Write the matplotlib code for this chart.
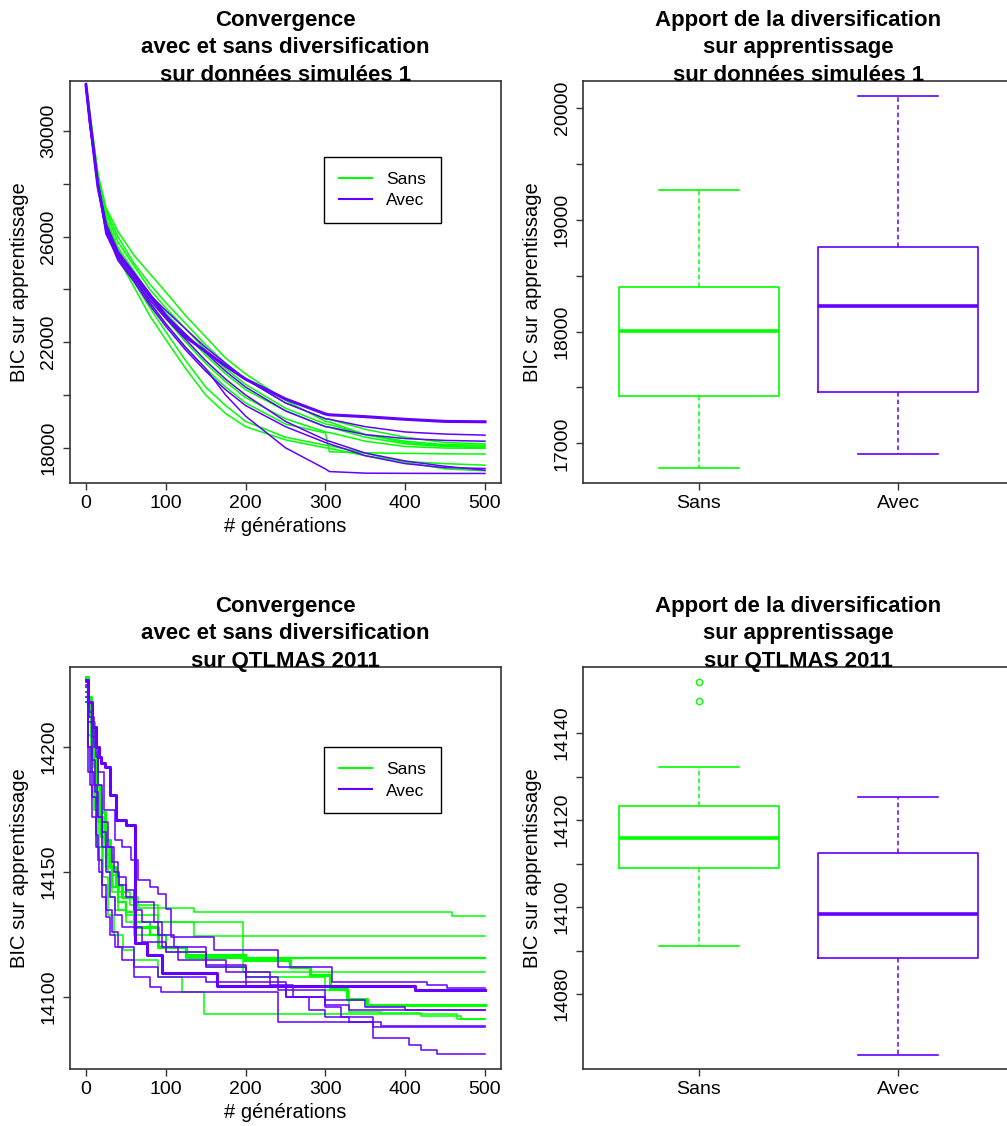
import numpy as np
import matplotlib
matplotlib.use('Agg')
import matplotlib.pyplot as plt

plt.rcParams['font.family'] = ['Liberation Sans', 'DejaVu Sans']

VERT = '#00FF00'
VIOLET = '#6400FF'

# ---- courbes de convergence, données simulées 1 (grille commune de générations)
top_gens = [0, 5, 15, 25, 40, 60, 80, 100, 125, 150, 175, 200, 250, 300, 305, 350, 400, 450, 500]
top_sans = [
    [31700, 30500, 28200, 26900, 25800, 24900, 24000, 23300, 22500, 21700, 21000, 20400, 19500, 18900, 18880, 18500, 18250, 18120, 18100],
    [31650, 30300, 28000, 26700, 25600, 24700, 23800, 23100, 22300, 21500, 20800, 20200, 19400, 18800, 18780, 18400, 18150, 18050, 18000],
    [31800, 30700, 28400, 27100, 26200, 25300, 24600, 23900, 23000, 22200, 21400, 20800, 19800, 19000, 18980, 18500, 18200, 18080, 18060],
    [31600, 30400, 27900, 26600, 25500, 24500, 23600, 22900, 22000, 21200, 20500, 19900, 19100, 18600, 18580, 18250, 18050, 17990, 17980],
    [31700, 30400, 28000, 26700, 25500, 24500, 23500, 22700, 21800, 21000, 20300, 19700, 18900, 18560, 17850, 17810, 17790, 17770, 17765],
    [31700, 30300, 27800, 26400, 25200, 24100, 23000, 22100, 21000, 20000, 19300, 18800, 18300, 18000, 17980, 17700, 17480, 17400, 17343],
    [31750, 30500, 28000, 26600, 25300, 24300, 23300, 22400, 21300, 20300, 19600, 19000, 18400, 18100, 18080, 17800, 17450, 17200, 17130],
    [31700, 30600, 28300, 27000, 26000, 25000, 24200, 23500, 22700, 21900, 21200, 20600, 19700, 19100, 19080, 18700, 18400, 18200, 18150],
]
top_avec = [
    [31750, 30400, 27900, 26400, 25400, 24600, 23800, 23000, 22200, 21650, 21100, 20600, 19850, 19280, 19250, 19180, 19080, 19000, 18986],
    [31700, 30200, 28000, 26500, 25400, 24600, 23800, 23200, 22500, 21800, 21200, 20600, 19700, 19100, 19080, 18800, 18600, 18520, 18480],
    [31750, 30400, 28100, 26400, 25300, 24500, 23700, 23000, 22300, 21600, 20900, 20300, 19400, 18800, 18780, 18500, 18350, 18280, 18250],
    [31700, 30300, 27900, 26200, 25100, 24300, 23400, 22600, 21700, 20900, 20200, 19600, 18800, 18200, 18150, 17700, 17400, 17250, 17217],
    [31800, 30500, 28000, 26100, 25200, 24400, 23500, 22700, 21800, 21000, 20000, 19200, 18000, 17200, 17100, 17040, 17033, 17030, 17028],
    [31650, 30200, 27900, 26300, 25200, 24400, 23600, 22900, 22100, 21300, 20600, 20000, 19000, 18300, 18250, 17800, 17500, 17300, 17150],
]
top_avec_lw = [2.2, 1.1, 1.1, 1.1, 1.1, 1.1]

# ---- courbes de convergence, QTLMAS 2011 (paliers)
bot_sans_gens = [
    [0, 3, 6, 10, 14, 18, 23, 28, 34, 40, 65, 135, 458, 500],
    [0, 3, 7, 11, 15, 20, 26, 33, 42, 55, 90, 135, 500],
    [0, 3, 6, 10, 14, 19, 25, 32, 40, 50, 60, 80, 100, 125, 200, 500],
    [0, 3, 7, 11, 16, 21, 28, 36, 50, 90, 197, 500],
    [0, 3, 6, 10, 14, 18, 24, 30, 38, 45, 60, 90, 125, 198, 256, 281, 306, 327, 352, 500],
    [0, 3, 6, 10, 14, 20, 27, 35, 47, 60, 90, 120, 148, 465, 500],
    [0, 3, 7, 11, 15, 20, 26, 32, 40, 50, 60, 100, 150, 200, 300, 330, 370, 420, 470, 500],
]
bot_sans_vals = [
    [14226, 14218, 14208, 14196, 14185, 14172, 14160, 14150, 14144, 14140, 14135.5, 14134, 14132.4, 14132.4],
    [14222, 14214, 14203, 14192, 14180, 14168, 14157, 14149, 14142, 14137, 14130, 14124.3, 14124.3],
    [14224, 14216, 14204, 14192, 14178, 14164, 14152, 14144, 14138, 14134, 14130, 14125, 14120, 14117, 14115.6, 14115.6],
    [14218, 14205, 14190, 14175, 14160, 14148, 14140, 14135, 14133, 14130, 14109.9, 14109.9],
    [14228, 14220, 14210, 14198, 14185, 14174, 14163, 14152, 14145, 14140, 14128, 14120, 14116, 14114.7, 14112, 14109, 14103.3, 14099.3, 14097, 14096.8],
    [14220, 14205, 14190, 14175, 14160, 14145, 14133, 14125, 14119, 14115, 14108, 14102, 14093.3, 14091.1, 14091.1],
    [14225, 14212, 14195, 14182, 14170, 14160, 14150, 14142, 14135, 14130, 14125, 14118, 14112, 14108, 14103, 14094, 14093.5, 14092.4, 14091.1, 14091.1],
]
bot_sans_lw = [1.1, 1.1, 1.6, 1.1, 2.2, 1.1, 1.1]

bot_avec_gens = [
    [0, 3, 7, 12, 16, 19, 24, 30, 38, 50, 62, 77, 95, 164, 412, 500],
    [0, 4, 8, 12, 15, 22, 36, 45, 56, 65, 80, 90, 100, 107, 160, 240, 308, 427, 452, 500],
    [0, 2, 10, 14, 20, 25, 30, 37, 45, 70, 100, 150, 200, 240, 300, 350, 400, 500],
    [0, 3, 8, 12, 15, 20, 25, 32, 40, 60, 90, 150, 200, 250, 300, 320, 360, 500],
    [0, 3, 5, 8, 12, 16, 20, 25, 30, 37, 45, 60, 80, 94, 240, 360, 405, 420, 440, 500],
    [0, 4, 10, 15, 20, 27, 35, 42, 50, 60, 70, 90, 110, 150, 200, 250, 280, 300, 330, 370, 500],
    [0, 3, 7, 11, 15, 20, 25, 32, 40, 50, 60, 85, 95, 115, 175, 230, 260, 300, 330, 500],
]
bot_avec_vals = [
    [14227, 14218, 14208, 14200, 14196, 14193.5, 14192, 14181, 14171, 14168.8, 14121.6, 14116.8, 14109.6, 14104.6, 14102.8, 14102.8],
    [14224, 14214, 14204, 14196, 14190, 14175, 14162.8, 14160, 14154.7, 14146.7, 14144, 14141.4, 14135.4, 14124, 14118.7, 14112, 14106, 14105, 14103.7, 14103.7],
    [14222, 14190, 14185, 14172, 14160, 14150, 14140, 14133, 14128, 14122, 14118, 14113, 14108, 14103, 14099, 14096, 14094.8, 14094.8],
    [14220, 14200, 14180, 14165, 14155, 14145, 14135, 14126, 14120, 14112, 14108, 14106, 14104, 14100, 14096, 14092, 14088.1, 14088.1],
    [14218, 14200, 14185, 14172, 14160, 14150, 14140, 14132, 14125, 14120, 14115, 14108, 14104, 14102, 14090, 14083.7, 14081, 14079, 14077.2, 14077.2],
    [14225, 14212, 14200, 14185, 14170, 14160, 14150, 14145, 14140, 14135, 14130, 14125, 14120, 14112, 14106, 14100, 14095, 14092, 14090, 14088.3, 14088.3],
    [14226, 14210, 14195, 14182, 14172, 14166, 14160, 14154, 14148, 14143, 14138, 14130, 14120, 14115, 14110, 14105, 14100, 14097, 14095, 14095],
]
bot_avec_lw = [2.2, 1.1, 1.1, 1.1, 1.1, 1.1, 1.1]

# ---- boxplots : [min moustache, Q1, médiane, Q3, max moustache]
groupes = ['Sans', 'Avec']
box_top_sans = [16777, 17427, 18009, 18398, 19266]
box_top_avec = [16905, 17457, 18227, 18761, 20110]
box_bot_sans = [14091.0, 14109.1, 14115.9, 14123.3, 14132.2]
box_bot_avec = [14066.1, 14088.2, 14098.5, 14112.5, 14125.3]
box_bot_sans_out = [14147.5, 14151.7]

W, H = 1007, 1126
fig = plt.figure(figsize=(W / 100, H / 100), dpi=100)


def axes_px(x0, y0, x1, y1):
    return fig.add_axes([x0 / W, 1 - y1 / H, (x1 - x0) / W, (y1 - y0) / H])


def style_axes(ax):
    for s in ax.spines.values():
        s.set_color('#333333')
        s.set_linewidth(1.2)
    ax.tick_params(length=5, width=1, pad=4, labelsize=14, color='#333333')
    ax.tick_params(axis='y', labelrotation=90)
    for lab in ax.get_yticklabels():
        lab.set_va('center')


def set_yticks(ax, ticks, shown):
    ax.set_yticks(ticks)
    ax.set_yticklabels([str(t) if t in shown else '' for t in ticks])


ax1 = axes_px(70, 81, 501, 483)
ax2 = axes_px(583, 81, 1014, 483)
ax3 = axes_px(70, 667, 501, 1069)
ax4 = axes_px(583, 667, 1014, 1069)

# y fixé : désactive le placement automatique du titre
title_kw = dict(fontsize=16, fontweight='bold', linespacing=1.42, y=1.0, pad=0)

# convergence simulées
for vals in top_sans:
    ax1.plot(top_gens, vals, color=VERT, lw=1.1)
for vals, lw in zip(top_avec, top_avec_lw):
    ax1.plot(top_gens, vals, color=VIOLET, lw=lw)
ax1.set_xlim(-20, 520)
ax1.set_ylim(16667, 31894)
ax1.set_xticks([0, 100, 200, 300, 400, 500])
set_yticks(ax1, list(range(18000, 30001, 2000)), [18000, 22000, 26000, 30000])
ax1.set_title('Convergence\navec et sans diversification\nsur données simulées 1', **title_kw)

# convergence QTLMAS
for g, v, lw in zip(bot_sans_gens, bot_sans_vals, bot_sans_lw):
    ax3.plot(g, v, color=VERT, lw=lw, drawstyle='steps-post')
for g, v, lw in zip(bot_avec_gens, bot_avec_vals, bot_avec_lw):
    ax3.plot(g, v, color=VIOLET, lw=lw, drawstyle='steps-post')
ax3.set_xlim(-20, 520)
ax3.set_ylim(14071.2, 14232.1)
ax3.set_xticks([0, 100, 200, 300, 400, 500])
set_yticks(ax3, [14100, 14150, 14200], [14100, 14150, 14200])
ax3.set_title('Convergence\navec et sans diversification\nsur QTLMAS 2011', **title_kw)

for ax, ly in ((ax1, 0.811), (ax3, 0.80)):
    h1, = ax.plot([], [], color=VERT, lw=1.5)
    h2, = ax.plot([], [], color=VIOLET, lw=1.5)
    leg = ax.legend([h1, h2], ['Sans', 'Avec'], loc='upper left', bbox_to_anchor=(0.589, ly),
                    fontsize=12.5, fancybox=False, framealpha=1, edgecolor='black',
                    handlelength=1.9, handletextpad=0.85, borderpad=0.85, labelspacing=0.35,
                    borderaxespad=0)
    leg.get_frame().set_linewidth(1.0)
    ax.set_xlabel('# générations', fontsize=14.5, labelpad=3)
    ax.set_ylabel('BIC sur apprentissage', fontsize=14.5, labelpad=8)


def boxes(ax, sans, avec, fliers_sans):
    stats = []
    for s, fl in ((sans, fliers_sans), (avec, [])):
        stats.append(dict(whislo=s[0], q1=s[1], med=s[2], q3=s[3], whishi=s[4], fliers=fl))
    bp = ax.bxp(stats, positions=[1, 2], widths=0.8, capwidths=0.4, showfliers=True,
                flierprops=dict(marker='o', markersize=4.5, markerfacecolor='none', linestyle='none'))
    for i, col in enumerate([VERT, VIOLET]):
        bp['boxes'][i].set(color=col, lw=1.2)
        bp['medians'][i].set(color=col, lw=2.6)
        for w in bp['whiskers'][2 * i:2 * i + 2]:
            w.set(color=col, lw=1.1, linestyle=(0, (3, 2)))
        for c in bp['caps'][2 * i:2 * i + 2]:
            c.set(color=col, lw=1.2)
        bp['fliers'][i].set(markeredgecolor=col, markeredgewidth=1.0)
    ax.set_xlim(0.42, 2.58)
    ax.set_xticks([1, 2])
    ax.set_xticklabels(groupes)
    ax.set_ylabel('BIC sur apprentissage', fontsize=14.5, labelpad=8)


boxes(ax2, box_top_sans, box_top_avec, [])
ax2.set_ylim(16645, 20244)
set_yticks(ax2, list(range(17000, 20001, 500)), [17000, 18000, 19000, 20000])
ax2.set_title('Apport de la diversification\nsur apprentissage\nsur données simulées 1', **title_kw)

boxes(ax4, box_bot_sans, box_bot_avec, box_bot_sans_out)
ax4.set_ylim(14062.8, 14155.2)
set_yticks(ax4, list(range(14080, 14141, 10)), [14080, 14100, 14120, 14140])
ax4.set_title('Apport de la diversification\nsur apprentissage\nsur QTLMAS 2011', **title_kw)

for ax in (ax1, ax2, ax3, ax4):
    style_axes(ax)

fig.savefig('out.png', dpi=100)
